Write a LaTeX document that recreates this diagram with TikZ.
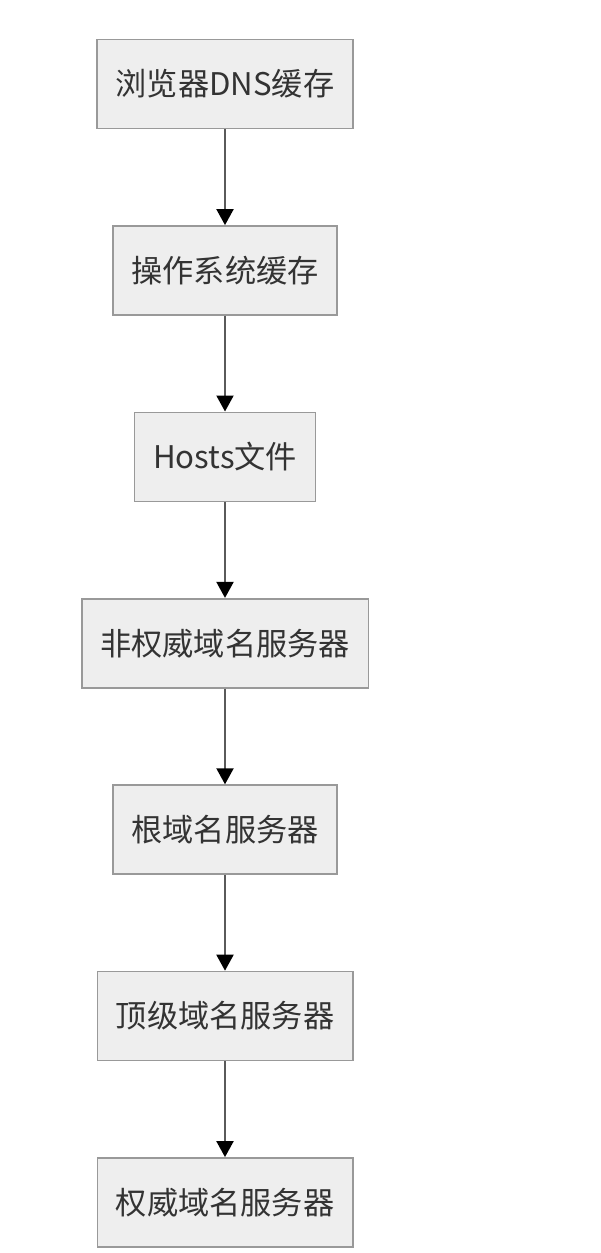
\documentclass[tikz,border=0pt]{standalone}
\usepackage{fontspec}
\setmainfont{Noto Sans CJK SC}
\usetikzlibrary{arrows.meta, positioning}
\definecolor{boxfill}{HTML}{EEEEEE}
\definecolor{boxline}{HTML}{999999}
\definecolor{linkline}{HTML}{5A5A5A}
\definecolor{labeltext}{HTML}{333333}

\begin{document}
\begin{tikzpicture}[
    x=1pt, y=1pt,
    node distance=95.8pt,
    step box/.style={rectangle, draw=boxline, line width=1.6pt, fill=boxfill, text=labeltext, font=\fontsize{31.2}{36}\selectfont, inner xsep=18.5pt, inner ysep=0pt, minimum height=89pt},
    arrow/.style={-{Triangle[length=16pt, width=17pt, color=black]}, draw=linkline, line width=2pt}
]
\useasboundingbox (0,0) rectangle (601,-1253);

\node[step box] (browser) at (225,-84) {浏览器DNS缓存};
\node[step box, below=of browser] (os) {操作系统缓存};
\node[step box, below=of os] (hosts) {Hosts文件};
\node[step box, below=of hosts] (local) {非权威域名服务器};
\node[step box, below=of local] (root) {根域名服务器};
\node[step box, below=of root] (tld) {顶级域名服务器};
\node[step box, below=of tld] (auth) {权威域名服务器};

\draw[arrow] (browser) -- (os);
\draw[arrow] (os) -- (hosts);
\draw[arrow] (hosts) -- (local);
\draw[arrow] (local) -- (root);
\draw[arrow] (root) -- (tld);
\draw[arrow] (tld) -- (auth);

\end{tikzpicture}
\end{document}
